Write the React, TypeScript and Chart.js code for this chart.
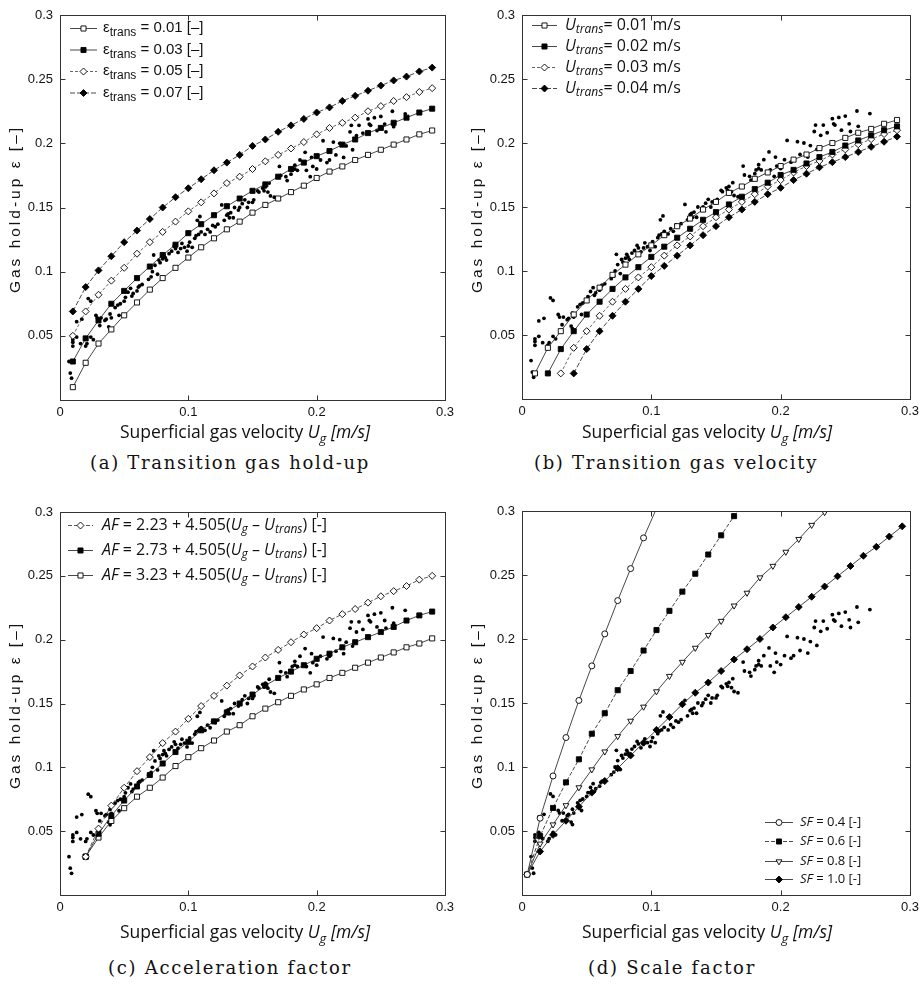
import React, { useEffect, useRef } from 'react';
import { Chart, registerables } from 'chart.js';

Chart.register(...registerables);

// ---------------- DATA ----------------
// Experimental gas hold-up data (shared by all panels)
const EXP_X = [0.007, 0.008, 0.009, 0.010, 0.010, 0.010, 0.013, 0.013, 0.017, 0.016, 0.020, 0.021, 0.022, 0.024, 0.024, 0.026, 0.028, 0.029, 0.032, 0.031,
  0.035, 0.036, 0.039, 0.040, 0.038, 0.039, 0.043, 0.046, 0.045, 0.047, 0.050, 0.051, 0.053, 0.055, 0.056, 0.057, 0.060, 0.061, 0.062, 0.064,
  0.069, 0.071, 0.072, 0.073, 0.074, 0.076, 0.077, 0.078, 0.080, 0.081, 0.082, 0.083, 0.085, 0.087, 0.089, 0.090, 0.092, 0.094, 0.095, 0.097,
  0.099, 0.100, 0.101, 0.103, 0.105, 0.106, 0.108, 0.109, 0.107, 0.110, 0.113, 0.115, 0.117, 0.119, 0.121, 0.123, 0.126, 0.128, 0.130, 0.131,
  0.132, 0.133, 0.136, 0.135, 0.139, 0.140, 0.142, 0.144, 0.146, 0.147, 0.150, 0.151, 0.154, 0.155, 0.158, 0.159, 0.160, 0.162, 0.164, 0.163,
  0.167, 0.171, 0.172, 0.176, 0.177, 0.180, 0.181, 0.183, 0.183, 0.185, 0.187, 0.191, 0.192, 0.195, 0.196, 0.197, 0.200, 0.203, 0.205, 0.208,
  0.210, 0.213, 0.215, 0.218, 0.221, 0.223, 0.226, 0.227, 0.228, 0.231, 0.233, 0.236, 0.240, 0.241, 0.242, 0.245, 0.247, 0.250, 0.253, 0.254,
  0.259, 0.260, 0.269];
const EXP_Y = [0.030, 0.021, 0.017, 0.045, 0.042, 0.047, 0.049, 0.061, 0.063, 0.044, 0.042, 0.044, 0.079, 0.077, 0.049, 0.047, 0.066, 0.064, 0.064, 0.058,
  0.062, 0.063, 0.067, 0.064, 0.057, 0.055, 0.072, 0.066, 0.074, 0.075, 0.077, 0.080, 0.084, 0.087, 0.081, 0.083, 0.085, 0.088, 0.089, 0.090,
  0.094, 0.096, 0.100, 0.113, 0.105, 0.098, 0.109, 0.107, 0.110, 0.113, 0.111, 0.109, 0.114, 0.116, 0.120, 0.118, 0.115, 0.118, 0.122, 0.119,
  0.116, 0.120, 0.123, 0.119, 0.126, 0.128, 0.129, 0.143, 0.140, 0.131, 0.129, 0.133, 0.131, 0.136, 0.135, 0.137, 0.152, 0.140, 0.144, 0.145,
  0.142, 0.146, 0.150, 0.142, 0.148, 0.150, 0.153, 0.156, 0.150, 0.154, 0.154, 0.156, 0.163, 0.162, 0.165, 0.163, 0.166, 0.162, 0.159, 0.169,
  0.158, 0.182, 0.175, 0.174, 0.171, 0.176, 0.179, 0.183, 0.180, 0.179, 0.187, 0.193, 0.179, 0.174, 0.189, 0.182, 0.180, 0.187, 0.202, 0.185,
  0.187, 0.201, 0.191, 0.200, 0.189, 0.198, 0.209, 0.214, 0.195, 0.206, 0.214, 0.208, 0.219, 0.215, 0.214, 0.220, 0.210, 0.221, 0.215, 0.209,
  0.225, 0.213, 0.223];

// (a) Transition gas hold-up
const XA = [0.01, 0.02, 0.03, 0.04, 0.05, 0.06, 0.07, 0.08, 0.09, 0.10, 0.11, 0.12, 0.13, 0.14, 0.15, 0.16, 0.17, 0.18, 0.19, 0.20,
  0.21, 0.22, 0.23, 0.24, 0.25, 0.26, 0.27, 0.28, 0.29];
const A_EPS001 = [0.010, 0.029, 0.044, 0.055, 0.066, 0.076, 0.086, 0.095, 0.103, 0.111, 0.119, 0.126, 0.133, 0.139, 0.146, 0.152, 0.157, 0.162, 0.167, 0.173,
  0.178, 0.182, 0.187, 0.191, 0.195, 0.199, 0.203, 0.207, 0.210];
const A_EPS003 = [0.030, 0.048, 0.062, 0.075, 0.085, 0.095, 0.104, 0.113, 0.121, 0.130, 0.137, 0.144, 0.151, 0.157, 0.163, 0.168, 0.174, 0.180, 0.185, 0.190,
  0.194, 0.199, 0.203, 0.208, 0.212, 0.216, 0.220, 0.224, 0.227];
const A_EPS005 = [0.050, 0.069, 0.082, 0.093, 0.103, 0.114, 0.123, 0.131, 0.139, 0.147, 0.154, 0.161, 0.169, 0.174, 0.180, 0.186, 0.191, 0.196, 0.201, 0.207,
  0.212, 0.216, 0.220, 0.225, 0.229, 0.233, 0.236, 0.240, 0.243];
const A_EPS007 = [0.069, 0.088, 0.101, 0.112, 0.123, 0.132, 0.141, 0.150, 0.158, 0.165, 0.172, 0.179, 0.185, 0.191, 0.198, 0.203, 0.209, 0.214, 0.219, 0.224,
  0.228, 0.233, 0.237, 0.241, 0.245, 0.249, 0.252, 0.256, 0.259];

// (b) Transition gas velocity
const XB = XA;
const B_U001 = [0.020, 0.040, 0.053, 0.066, 0.077, 0.087, 0.097, 0.105, 0.113, 0.120, 0.128, 0.135, 0.141, 0.148, 0.154, 0.161, 0.166, 0.172, 0.177, 0.182,
  0.187, 0.191, 0.196, 0.200, 0.204, 0.208, 0.211, 0.215, 0.218];
const B_U002 = [null, 0.020, 0.039, 0.053, 0.066, 0.076, 0.086, 0.095, 0.103, 0.111, 0.119, 0.126, 0.133, 0.140, 0.146, 0.152, 0.158, 0.164, 0.169, 0.175,
  0.179, 0.184, 0.189, 0.193, 0.198, 0.202, 0.206, 0.210, 0.213];
const B_U003 = [null, null, 0.020, 0.040, 0.053, 0.065, 0.076, 0.086, 0.095, 0.103, 0.112, 0.120, 0.127, 0.135, 0.142, 0.148, 0.154, 0.160, 0.166, 0.171,
  0.177, 0.182, 0.186, 0.191, 0.195, 0.199, 0.203, 0.207, 0.210];
const B_U004 = [null, null, null, 0.020, 0.039, 0.053, 0.065, 0.076, 0.086, 0.096, 0.104, 0.112, 0.120, 0.128, 0.135, 0.142, 0.148, 0.154, 0.160, 0.165,
  0.171, 0.176, 0.181, 0.185, 0.189, 0.193, 0.197, 0.201, 0.205];

// (c) Acceleration factor
const XC = [0.02, 0.03, 0.04, 0.05, 0.06, 0.07, 0.08, 0.09, 0.10, 0.11, 0.12, 0.13, 0.14, 0.15, 0.16, 0.17, 0.18, 0.19, 0.20,
  0.21, 0.22, 0.23, 0.24, 0.25, 0.26, 0.27, 0.28, 0.29];
const C_AF223 = [0.030, 0.052, 0.070, 0.084, 0.097, 0.108, 0.119, 0.128, 0.138, 0.148, 0.156, 0.164, 0.172, 0.179, 0.186, 0.192, 0.198, 0.204, 0.209,
  0.215, 0.220, 0.224, 0.229, 0.234, 0.238, 0.242, 0.247, 0.250];
const C_AF273 = [0.030, 0.048, 0.062, 0.074, 0.085, 0.094, 0.103, 0.112, 0.120, 0.129, 0.136, 0.143, 0.150, 0.157, 0.164, 0.170, 0.175, 0.180, 0.185,
  0.189, 0.194, 0.198, 0.202, 0.206, 0.210, 0.215, 0.219, 0.222];
const C_AF323 = [0.030, 0.045, 0.058, 0.068, 0.077, 0.084, 0.092, 0.101, 0.108, 0.115, 0.121, 0.128, 0.133, 0.140, 0.146, 0.151, 0.156, 0.161, 0.165,
  0.170, 0.174, 0.178, 0.182, 0.186, 0.190, 0.194, 0.197, 0.201];

// (d) Scale factor
const XD = [0.004, 0.014, 0.024, 0.034, 0.044, 0.054, 0.064, 0.074, 0.084, 0.094, 0.104, 0.114, 0.124, 0.134, 0.144, 0.154, 0.164, 0.174, 0.184, 0.194,
  0.204, 0.214, 0.224, 0.234, 0.244, 0.254, 0.264, 0.274, 0.284, 0.294];
const D_SF04 = [0.016, 0.060, 0.093, 0.123, 0.152, 0.179, 0.204, 0.230, 0.255, 0.279, 0.302];
const D_SF06 = [0.016, 0.046, 0.068, 0.088, 0.106, 0.126, 0.142, 0.160, 0.175, 0.191, 0.207, 0.222, 0.237, 0.251, 0.266, 0.281, 0.296, 0.310];
const D_SF08 = [0.016, 0.040, 0.055, 0.070, 0.084, 0.098, 0.112, 0.124, 0.136, 0.147, 0.159, 0.171, 0.182, 0.193, 0.203, 0.214, 0.226, 0.236, 0.248, 0.257,
  0.268, 0.278, 0.289, 0.299, 0.309];
const D_SF10 = [0.016, 0.034, 0.047, 0.058, 0.069, 0.080, 0.089, 0.099, 0.109, 0.119, 0.129, 0.139, 0.149, 0.158, 0.166, 0.175, 0.184, 0.192, 0.200, 0.209,
  0.217, 0.225, 0.233, 0.241, 0.249, 0.257, 0.265, 0.272, 0.280, 0.288];

const X_TICKS = [0, 0.1, 0.2, 0.3];
const Y_TICKS = [0.05, 0.1, 0.15, 0.2, 0.25, 0.3];

// ---------------- TYPES & HELPERS ----------------
type Seg = { t: string; it?: boolean; sub?: boolean };
type Series = {
  x: number[]; y: (number | null)[]; style: string; filled: boolean; r: number;
  dash?: number[]; rot?: number; color?: string;
};
type LegendCfg = {
  rows: number[]; x0: number; x1: number; tx: number; family: string; size: number;
  subSize: number; subShift: number; items: { si: number; segs: Seg[] }[];
};
type PanelCfg = {
  left: number; top: number; width: number; height: number;
  pad: { left: number; top: number; right: number; bottom: number };
  yW: number; xH: number; series: Series[]; legend: LegendCfg;
};

const TICK_FAMILY = '"Liberation Sans", Arial, sans-serif';

function toPoints(xs: number[], ys: (number | null)[]) {
  const pts: { x: number; y: number }[] = [];
  ys.forEach((v, i) => {
    if (v !== null && v !== undefined && i < xs.length) pts.push({ x: xs[i], y: v });
  });
  return pts;
}

function fmt(v: number) {
  return String(+(+v).toFixed(2));
}

function drawMarker(ctx: CanvasRenderingContext2D, s: Series, x: number, y: number) {
  const r = s.r;
  ctx.beginPath();
  if (s.style === 'rect') {
    const h = r * Math.SQRT1_2;
    ctx.rect(x - h, y - h, 2 * h, 2 * h);
  } else if (s.style === 'rectRot') {
    ctx.moveTo(x - r, y);
    ctx.lineTo(x, y - r);
    ctx.lineTo(x + r, y);
    ctx.lineTo(x, y + r);
    ctx.closePath();
  } else if (s.style === 'triangle') {
    const dir = s.rot === 180 ? -1 : 1;
    ctx.moveTo(x, y - dir * r);
    ctx.lineTo(x + r * 0.866, y + dir * r * 0.5);
    ctx.lineTo(x - r * 0.866, y + dir * r * 0.5);
    ctx.closePath();
  } else {
    ctx.arc(x, y, r, 0, Math.PI * 2);
  }
  ctx.fillStyle = s.filled ? '#000' : '#fff';
  ctx.fill();
  ctx.setLineDash([]);
  ctx.lineWidth = 0.9;
  ctx.strokeStyle = '#000';
  ctx.stroke();
}

function drawRich(ctx: CanvasRenderingContext2D, x: number, y: number, segs: Seg[], lg: LegendCfg) {
  let cx = x;
  for (const s of segs) {
    const fs = s.sub ? lg.subSize : lg.size;
    ctx.font = `${s.it ? 'italic ' : ''}${fs}px ${lg.family}`;
    ctx.fillText(s.t, cx, y + (s.sub ? lg.subShift : 0));
    cx += ctx.measureText(s.t).width;
  }
}

const framePlugin = {
  id: 'frameTicks',
  afterDatasetsDraw(chart: any) {
    const { ctx, chartArea: a, scales } = chart;
    ctx.save();
    ctx.strokeStyle = '#333';
    ctx.lineWidth = 1;
    ctx.setLineDash([]);
    const L = Math.round(a.left) + 0.5, R = Math.round(a.right) + 0.5;
    const T = Math.round(a.top) + 0.5, B = Math.round(a.bottom) + 0.5;
    ctx.strokeRect(L, T, R - L, B - T);
    const tl = 5;
    ctx.beginPath();
    for (const v of X_TICKS) {
      const px = Math.round(scales.x.getPixelForValue(v)) + 0.5;
      ctx.moveTo(px, B); ctx.lineTo(px, B - tl);
      ctx.moveTo(px, T); ctx.lineTo(px, T + tl);
    }
    for (const v of Y_TICKS) {
      const py = Math.round(scales.y.getPixelForValue(v)) + 0.5;
      ctx.moveTo(L, py); ctx.lineTo(L + tl, py);
      ctx.moveTo(R, py); ctx.lineTo(R - tl, py);
    }
    ctx.stroke();
    ctx.restore();
  },
};

function Panel({ cfg }: { cfg: PanelCfg }) {
  const ref = useRef<HTMLCanvasElement | null>(null);
  useEffect(() => {
    if (!ref.current) return;
    const lg = cfg.legend;
    const legendPlugin = {
      id: 'richLegend',
      afterDraw(chart: any) {
        const ctx: CanvasRenderingContext2D = chart.ctx;
        ctx.save();
        ctx.textBaseline = 'middle';
        ctx.textAlign = 'left';
        lg.items.forEach((it, i) => {
          const s = cfg.series[it.si];
          const y = lg.rows[i] - cfg.top;
          const x0 = lg.x0 - cfg.left, x1 = lg.x1 - cfg.left;
          ctx.strokeStyle = s.color ?? '#333';
          ctx.lineWidth = 0.9;
          ctx.setLineDash(s.dash ?? []);
          ctx.beginPath();
          ctx.moveTo(x0, y + 0.5);
          ctx.lineTo(x1, y + 0.5);
          ctx.stroke();
          drawMarker(ctx, s, (x0 + x1) / 2, y + 0.5);
          ctx.fillStyle = '#111';
          drawRich(ctx, lg.tx - cfg.left, y, it.segs, lg);
        });
        ctx.restore();
      },
    };
    const datasets: any[] = cfg.series.map((s) => ({
      data: toPoints(s.x, s.y),
      showLine: true,
      borderColor: s.color ?? '#333',
      borderWidth: 0.9,
      borderDash: s.dash ?? [],
      pointStyle: s.style,
      pointRotation: s.rot ?? 0,
      pointRadius: s.r,
      pointBackgroundColor: s.filled ? '#000' : '#fff',
      pointBorderColor: '#000',
      pointBorderWidth: 0.9,
      tension: 0,
      clip: 0,
    }));
    datasets.push({
      data: toPoints(EXP_X, EXP_Y),
      showLine: false,
      pointStyle: 'circle',
      pointRadius: 1.9,
      pointBackgroundColor: '#000',
      pointBorderColor: '#000',
      pointBorderWidth: 0,
      clip: 0,
    });
    const tickFont = { family: TICK_FAMILY, size: 13 };
    const chart = new Chart(ref.current, {
      type: 'scatter',
      data: { datasets },
      options: {
        animation: false,
        responsive: false,
        maintainAspectRatio: false,
        devicePixelRatio: 1,
        layout: { padding: cfg.pad },
        events: [],
        plugins: { legend: { display: false }, tooltip: { enabled: false } },
        scales: {
          x: {
            type: 'linear', min: 0, max: 0.3,
            afterFit: (s: any) => { s.height = cfg.xH; },
            afterBuildTicks: (s: any) => { s.ticks = X_TICKS.map((v) => ({ value: v })); },
            ticks: { callback: (v: any) => fmt(v), font: tickFont, color: '#111', padding: 5, maxRotation: 0, autoSkip: false },
            grid: { display: false, drawTicks: false },
            border: { display: false },
          },
          y: {
            type: 'linear', min: 0, max: 0.3,
            afterFit: (s: any) => { s.width = cfg.yW; },
            afterBuildTicks: (s: any) => { s.ticks = Y_TICKS.map((v) => ({ value: v })); },
            ticks: { callback: (v: any) => fmt(v), font: tickFont, color: '#111', padding: 7, autoSkip: false },
            grid: { display: false, drawTicks: false },
            border: { display: false },
          },
        },
      } as any,
      plugins: [framePlugin, legendPlugin],
    });
    return () => chart.destroy();
  }, [cfg]);
  return (
    <canvas
      ref={ref}
      width={cfg.width}
      height={cfg.height}
      style={{ position: 'absolute', left: cfg.left, top: cfg.top, width: cfg.width, height: cfg.height }}
    />
  );
}

// ---------------- PANELS ----------------
const SANS = '"Open Sans", "DejaVu Sans", sans-serif';

const PANEL_A: PanelCfg = {
  left: 0, top: 0, width: 462, height: 425,
  pad: { left: 0, top: 15, right: 17, bottom: 0 }, yW: 60, xH: 25,
  series: [
    { x: XA, y: A_EPS001, style: 'rect', filled: false, r: 3.6 },
    { x: XA, y: A_EPS003, style: 'rect', filled: true, r: 3.6 },
    { x: XA, y: A_EPS005, style: 'rectRot', filled: false, r: 3.5, dash: [3, 2], color: '#555' },
    { x: XA, y: A_EPS007, style: 'rectRot', filled: true, r: 3.5, dash: [5, 2] },
  ],
  legend: {
    rows: [28, 49.5, 71, 92.5], x0: 70, x1: 97, tx: 103, family: TICK_FAMILY, size: 15, subSize: 12, subShift: 5,
    items: [
      { si: 0, segs: [{ t: 'ε' }, { t: 'trans', sub: true }, { t: ' = 0.01 [–]' }] },
      { si: 1, segs: [{ t: 'ε' }, { t: 'trans', sub: true }, { t: ' = 0.03 [–]' }] },
      { si: 2, segs: [{ t: 'ε' }, { t: 'trans', sub: true }, { t: ' = 0.05 [–]' }] },
      { si: 3, segs: [{ t: 'ε' }, { t: 'trans', sub: true }, { t: ' = 0.07 [–]' }] },
    ],
  },
};

const PANEL_B: PanelCfg = {
  left: 462, top: 0, width: 462, height: 425,
  pad: { left: 0, top: 15, right: 12, bottom: 0 }, yW: 60, xH: 26,
  series: [
    { x: XB, y: B_U001, style: 'rect', filled: false, r: 3.6 },
    { x: XB, y: B_U002, style: 'rect', filled: true, r: 3.6 },
    { x: XB, y: B_U003, style: 'rectRot', filled: false, r: 3.5, dash: [3, 2], color: '#555' },
    { x: XB, y: B_U004, style: 'rectRot', filled: true, r: 3.5, dash: [5, 2] },
  ],
  legend: {
    rows: [25, 46, 67, 88], x0: 532, x1: 557, tx: 565, family: SANS, size: 16, subSize: 12, subShift: 5,
    items: [
      { si: 0, segs: [{ t: 'U', it: true }, { t: 'trans', it: true, sub: true }, { t: '= 0.01 m/s' }] },
      { si: 1, segs: [{ t: 'U', it: true }, { t: 'trans', it: true, sub: true }, { t: '= 0.02 m/s' }] },
      { si: 2, segs: [{ t: 'U', it: true }, { t: 'trans', it: true, sub: true }, { t: '= 0.03 m/s' }] },
      { si: 3, segs: [{ t: 'U', it: true }, { t: 'trans', it: true, sub: true }, { t: '= 0.04 m/s' }] },
    ],
  },
};

const afSegs = (a: string): Seg[] => [
  { t: 'AF', it: true }, { t: ` = ${a} + 4.505(` }, { t: 'U', it: true }, { t: 'g', it: true, sub: true },
  { t: ' – ' }, { t: 'U', it: true }, { t: 'trans', it: true, sub: true }, { t: ') [-]' },
];

const PANEL_C: PanelCfg = {
  left: 0, top: 480, width: 462, height: 440,
  pad: { left: 0, top: 32, right: 17, bottom: 0 }, yW: 60, xH: 25,
  series: [
    { x: XC, y: C_AF223, style: 'rectRot', filled: false, r: 3.5, dash: [4, 2], color: '#444' },
    { x: XC, y: C_AF273, style: 'rect', filled: true, r: 3.6 },
    { x: XC, y: C_AF323, style: 'rect', filled: false, r: 3.6 },
  ],
  legend: {
    rows: [525, 550, 575], x0: 68, x1: 93, tx: 102, family: SANS, size: 16, subSize: 12, subShift: 5,
    items: [
      { si: 0, segs: afSegs('2.23') },
      { si: 1, segs: afSegs('2.73') },
      { si: 2, segs: afSegs('3.23') },
    ],
  },
};

const PANEL_D: PanelCfg = {
  left: 462, top: 480, width: 462, height: 440,
  pad: { left: 0, top: 31, right: 12, bottom: 0 }, yW: 60, xH: 25,
  series: [
    { x: XD, y: D_SF04, style: 'circle', filled: false, r: 3.0 },
    { x: XD, y: D_SF06, style: 'rect', filled: true, r: 3.6, dash: [4, 2] },
    { x: XD, y: D_SF08, style: 'triangle', filled: false, r: 3.4, rot: 180 },
    { x: XD, y: D_SF10, style: 'rectRot', filled: true, r: 3.5 },
  ],
  legend: {
    rows: [822, 841, 861, 879], x0: 765, x1: 793, tx: 800, family: SANS, size: 13, subSize: 10, subShift: 4,
    items: [
      { si: 0, segs: [{ t: 'SF', it: true }, { t: ' = 0.4 [-]' }] },
      { si: 1, segs: [{ t: 'SF', it: true }, { t: ' = 0.6 [-]' }] },
      { si: 2, segs: [{ t: 'SF', it: true }, { t: ' = 0.8 [-]' }] },
      { si: 3, segs: [{ t: 'SF', it: true }, { t: ' = 1.0 [-]' }] },
    ],
  },
};

const PANELS = [PANEL_A, PANEL_B, PANEL_C, PANEL_D];

const Y_TITLE_POS = [[14, 209], [476, 209], [14, 705], [476, 705]];
const X_TITLE_POS = [[245, 432], [707, 432], [245, 932], [707, 932]];
const CAPTIONS = ['(a) Transition gas hold-up', '(b) Transition gas velocity', '(c) Acceleration factor', '(d) Scale factor'];
const CAPTION_POS = [[230, 462], [676, 462], [230, 967], [672, 967]];

function YTitle({ cx, cy }: { cx: number; cy: number }) {
  return (
    <div style={{
      position: 'absolute', left: cx, top: cy, transform: 'translate(-50%,-50%) rotate(-90deg)',
      whiteSpace: 'nowrap', font: `15.5px ${TICK_FAMILY}`, letterSpacing: '3px', color: '#111', lineHeight: '17px',
    }}>Gas hold-up ε [–]</div>
  );
}

function XTitle({ cx, cy }: { cx: number; cy: number }) {
  return (
    <div style={{
      position: 'absolute', left: cx, top: cy, transform: 'translate(-50%,-50%)',
      whiteSpace: 'nowrap', font: `17.5px ${SANS}`, color: '#111', lineHeight: '19px',
    }}>
      Superficial gas velocity <i>U<span style={{ fontSize: 13, position: 'relative', top: 5 }}>g</span></i> <i>[m/s]</i>
    </div>
  );
}

function Caption({ cx, cy, text }: { cx: number; cy: number; text: string }) {
  return (
    <div style={{
      position: 'absolute', left: cx, top: cy, transform: 'translate(-50%,-50%)',
      whiteSpace: 'nowrap', font: '18px "DejaVu Serif", serif', letterSpacing: '1.7px', color: '#111', lineHeight: '21px',
    }}>{text}</div>
  );
}

export default function App() {
  return (
    <div style={{ position: 'absolute', left: 0, top: 0, width: 924, height: 984, background: '#fff', overflow: 'hidden' }}>
      {PANELS.map((p, i) => <Panel key={i} cfg={p} />)}
      {Y_TITLE_POS.map(([x, y], i) => <YTitle key={'y' + i} cx={x} cy={y} />)}
      {X_TITLE_POS.map(([x, y], i) => <XTitle key={'x' + i} cx={x} cy={y} />)}
      {CAPTIONS.map((t, i) => <Caption key={'c' + i} cx={CAPTION_POS[i][0]} cy={CAPTION_POS[i][1]} text={t} />)}
    </div>
  );
}
